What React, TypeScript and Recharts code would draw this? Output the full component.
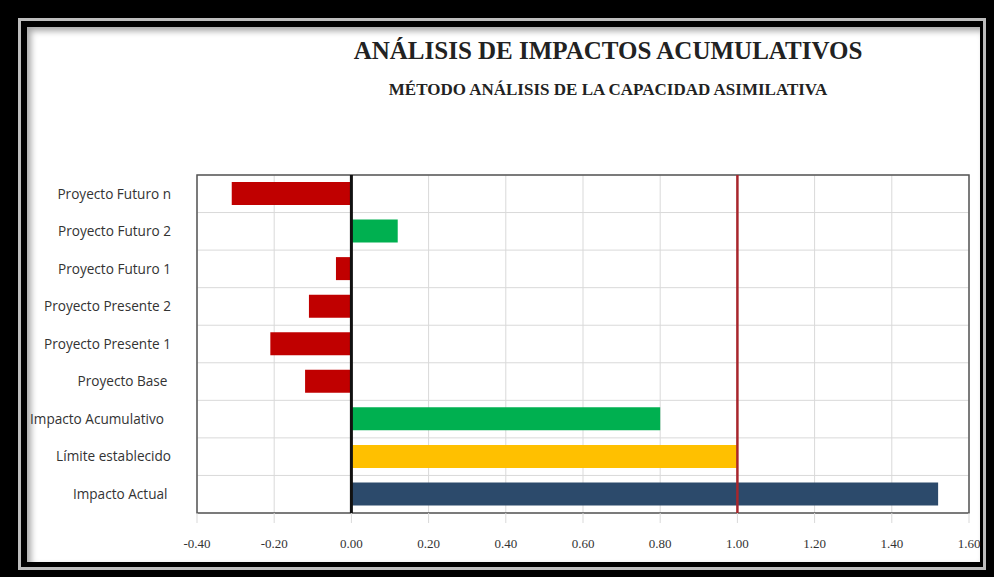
import React from 'react';
import {
  BarChart,
  Bar,
  Cell,
  XAxis,
  YAxis,
  CartesianGrid,
  ReferenceLine,
  ReferenceArea,
} from 'recharts';

const categories = [
  'Proyecto Futuro n',
  'Proyecto Futuro 2',
  'Proyecto Futuro 1',
  'Proyecto Presente 2',
  'Proyecto Presente 1',
  'Proyecto Base ',
  'Impacto Acumulativo  ',
  'Límite establecido',
  'Impacto Actual ',
];

const impactValues = [-0.31, 0.12, -0.04, -0.11, -0.21, -0.12, 0.8, 1.0, 1.52];

const barColors = [
  '#C00000',
  '#00B050',
  '#C00000',
  '#C00000',
  '#C00000',
  '#C00000',
  '#00B050',
  '#FFC000',
  '#2C4A6B',
];

const xTicks = [-0.4, -0.2, 0, 0.2, 0.4, 0.6, 0.8, 1.0, 1.2, 1.4, 1.6];
const limitValue = 1.0;

const data = categories.map((name, i) => ({ name, value: impactValues[i] }));

// eslint-disable-next-line @typescript-eslint/no-explicit-any
function CategoryTick({ x, y, payload }: any) {
  return (
    <text
      x={x}
      y={y}
      dy="0.35em"
      textAnchor="end"
      fill="#333"
      fontSize={13.6}
      fontFamily="'Open Sans', 'Liberation Sans', sans-serif"
      style={{ whiteSpace: 'pre' }}
    >
      {payload.value}
    </text>
  );
}

const serif = "'Liberation Serif', 'DejaVu Serif', serif";

export default function App() {
  return (
    <div style={{ position: 'absolute', left: 0, top: 0, width: 994, height: 577, background: '#000' }}>
      <div style={{ position: 'absolute', left: 18, top: 18, width: 968, height: 552, background: '#bdbdbd' }} />
      <div style={{ position: 'absolute', left: 21, top: 21, width: 962, height: 546, background: '#000' }} />
      <div
        style={{
          position: 'absolute',
          left: 27,
          top: 27,
          width: 953,
          height: 535,
          background: '#fff',
          boxShadow: 'inset 4px 4px 6px rgba(0,0,0,0.35)',
        }}
      />
      <div
        style={{
          position: 'absolute',
          left: 0,
          top: 37,
          width: 1216,
          textAlign: 'center',
          fontFamily: serif,
          fontWeight: 'bold',
          fontSize: 25,
          color: '#222',
        }}
      >
        ANÁLISIS DE IMPACTOS ACUMULATIVOS
      </div>
      <div
        style={{
          position: 'absolute',
          left: 0,
          top: 80,
          width: 1216,
          textAlign: 'center',
          fontFamily: serif,
          fontWeight: 'bold',
          fontSize: 17,
          color: '#222',
        }}
      >
        MÉTODO ANÁLISIS DE LA CAPACIDAD ASIMILATIVA
      </div>
      <div style={{ position: 'absolute', left: 0, top: 0 }}>
        <BarChart
          width={994}
          height={577}
          layout="vertical"
          data={data}
          margin={{ top: 175, right: 25, left: 27, bottom: 24 }}
          barSize={23}
        >
          <CartesianGrid
            stroke="#d9d9d9"
            horizontalCoordinatesGenerator={({ offset }: any) =>
              Array.from({ length: categories.length + 1 }, (_, i) => offset.top + (i * offset.height) / categories.length)
            }
          />
          <XAxis
            type="number"
            domain={[-0.4, 1.6]}
            ticks={xTicks}
            tickFormatter={(v: number) => v.toFixed(2)}
            tick={{ fontSize: 13, fill: '#333', fontFamily: serif }}
            tickLine={{ stroke: '#d9d9d9' }}
            tickSize={10}
            tickMargin={16}
            axisLine={false}
            height={40}
          />
          <YAxis
            type="category"
            dataKey="name"
            width={170}
            tick={<CategoryTick />}
            tickLine={false}
            tickSize={0}
            tickMargin={26}
            axisLine={false}
            interval={0}
          />
          <ReferenceArea
            x1={-0.4}
            x2={1.6}
            fill="none"
            stroke="#555"
            strokeWidth={1.5}
            ifOverflow="visible"
          />
          <Bar dataKey="value" isAnimationActive={false}>
            {data.map((d, i) => (
              <Cell key={d.name} fill={barColors[i]} />
            ))}
          </Bar>
          <ReferenceLine x={0} stroke="#111" strokeWidth={3} />
          <ReferenceLine x={limitValue} stroke="#A8262C" strokeWidth={2.5} />
        </BarChart>
      </div>
    </div>
  );
}
